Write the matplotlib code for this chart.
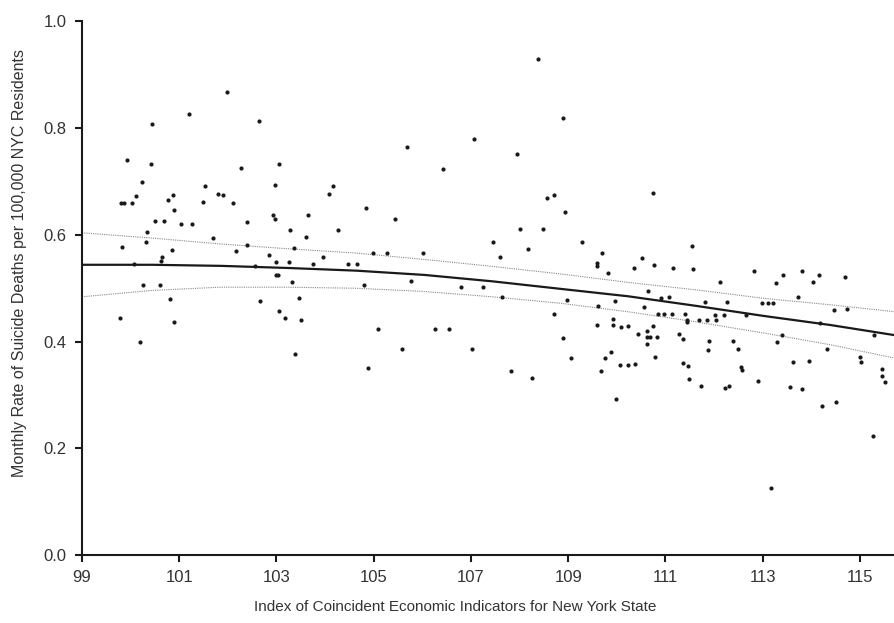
import matplotlib
matplotlib.use("Agg")
import matplotlib.pyplot as plt

plt.rcParams["font.family"] = ["Liberation Sans", "DejaVu Sans"]

# Scatter points: index value, monthly suicide rate
index_vals = [
    101.21, 100.44, 99.92, 100.42, 100.23, 101.54, 101.80, 100.11, 100.87, 100.76,
    99.80, 99.87, 100.03, 101.49, 100.90, 100.51, 100.69, 101.04, 101.26, 100.33,
    101.70, 100.32, 99.82, 100.86, 100.65, 100.63, 100.06, 100.26, 100.60, 100.82,
    99.78, 100.90, 100.19,
    101.99, 102.65, 102.26, 103.05, 102.96, 104.17, 101.91, 104.09, 102.11, 102.93,
    102.96, 103.65, 102.39, 103.27, 104.27, 103.60, 102.39, 102.16, 103.36, 102.84,
    103.95, 102.98, 103.26, 103.76, 104.48, 102.56, 102.98, 103.03, 103.31, 103.47,
    102.67, 103.06, 103.18, 103.51, 103.39,
    107.07, 105.68, 106.43, 104.84, 105.44, 104.98, 105.28, 106.01, 104.65, 104.80,
    105.76, 106.79, 107.25, 105.09, 106.26, 106.54, 105.59, 107.02, 104.89,
    108.38, 108.89, 107.94, 108.56, 108.70, 108.94, 108.01, 108.49, 107.46, 109.29,
    108.17, 107.59, 109.70, 109.59, 109.59, 109.81, 107.63, 108.98, 109.61, 109.96,
    108.70, 109.92, 109.59, 109.92, 110.08, 108.89, 109.88, 109.06, 109.76, 110.07,
    107.83, 109.68, 108.26, 109.98,
    110.74, 111.55, 110.51, 110.35, 110.77, 111.15, 111.56, 112.83, 112.12, 110.64,
    110.90, 111.07, 111.81, 112.26, 112.98, 110.55, 110.84, 110.96, 111.14, 111.40,
    111.44, 111.45, 111.68, 111.85, 112.03, 112.01, 112.20, 112.65, 110.23, 110.74,
    110.63, 110.43, 111.27, 110.63, 110.69, 110.83, 111.37, 111.90, 112.38, 110.62,
    111.87, 112.50, 110.79, 110.23, 110.38, 111.37, 111.47, 112.55, 112.57, 111.48,
    112.90, 111.74, 112.22, 112.31,
    113.80, 113.41, 114.15, 114.69, 113.27, 114.03, 113.73, 113.10, 113.22, 114.47,
    114.73, 114.18, 115.28, 113.40, 113.29, 114.33, 114.99, 115.03, 113.62, 113.95,
    115.45, 115.45, 115.51, 113.57, 113.81, 114.51, 114.21, 115.26, 113.18,
]
suicide_rate = [
    0.827, 0.807, 0.741, 0.732, 0.699, 0.692, 0.677, 0.673, 0.674, 0.666,
    0.660, 0.660, 0.660, 0.661, 0.646, 0.626, 0.626, 0.621, 0.621, 0.606,
    0.594, 0.586, 0.578, 0.572, 0.559, 0.552, 0.546, 0.506, 0.506, 0.479,
    0.444, 0.436, 0.399,
    0.868, 0.814, 0.726, 0.733, 0.694, 0.692, 0.674, 0.676, 0.660, 0.637,
    0.629, 0.637, 0.624, 0.610, 0.610, 0.597, 0.581, 0.570, 0.576, 0.563,
    0.559, 0.550, 0.550, 0.546, 0.546, 0.542, 0.524, 0.524, 0.511, 0.481,
    0.476, 0.458, 0.445, 0.441, 0.377,
    0.779, 0.765, 0.724, 0.651, 0.630, 0.566, 0.566, 0.566, 0.545, 0.506,
    0.514, 0.502, 0.502, 0.424, 0.424, 0.424, 0.386, 0.386, 0.351,
    0.929, 0.819, 0.751, 0.669, 0.674, 0.642, 0.611, 0.611, 0.586, 0.586,
    0.574, 0.559, 0.566, 0.547, 0.542, 0.529, 0.484, 0.478, 0.467, 0.477,
    0.451, 0.443, 0.431, 0.431, 0.428, 0.407, 0.381, 0.369, 0.369, 0.357,
    0.344, 0.344, 0.331, 0.292,
    0.679, 0.579, 0.556, 0.538, 0.544, 0.538, 0.536, 0.533, 0.511, 0.494,
    0.482, 0.484, 0.475, 0.475, 0.472, 0.465, 0.452, 0.452, 0.452, 0.452,
    0.440, 0.437, 0.440, 0.440, 0.440, 0.450, 0.450, 0.449, 0.429, 0.429,
    0.420, 0.415, 0.415, 0.408, 0.408, 0.408, 0.404, 0.402, 0.402, 0.396,
    0.384, 0.387, 0.371, 0.357, 0.358, 0.359, 0.355, 0.352, 0.347, 0.329,
    0.327, 0.316, 0.314, 0.316,
    0.533, 0.524, 0.524, 0.521, 0.509, 0.512, 0.484, 0.473, 0.473, 0.459,
    0.462, 0.434, 0.412, 0.412, 0.400, 0.387, 0.372, 0.362, 0.362, 0.363,
    0.349, 0.335, 0.325, 0.315, 0.312, 0.287, 0.279, 0.223, 0.126,
]

# Fitted curve and confidence band
fit_x = [99.0, 100.45, 101.85, 103.24, 104.64, 106.04, 107.44, 108.83, 110.23, 111.63, 113.03, 114.4, 115.72]
fit_y = [0.544, 0.544, 0.542, 0.538, 0.533, 0.525, 0.513, 0.499, 0.485, 0.467, 0.448, 0.431, 0.412]
upper_y = [0.604, 0.594, 0.583, 0.574, 0.566, 0.554, 0.541, 0.527, 0.511, 0.497, 0.481, 0.469, 0.456]
lower_y = [0.484, 0.496, 0.502, 0.502, 0.500, 0.494, 0.484, 0.472, 0.456, 0.437, 0.416, 0.394, 0.369]

x_ticks = [99, 101, 103, 105, 107, 109, 111, 113, 115]
y_ticks = [0.0, 0.2, 0.4, 0.6, 0.8, 1.0]

fig = plt.figure(figsize=(8.95, 6.23), dpi=100)
ax = fig.add_axes([0.0916, 0.1091, 0.9084, 0.8564])

ax.scatter(index_vals, suicide_rate, s=9, color="#1a1a1a", linewidths=0, zorder=3)
ax.plot(fit_x, fit_y, color="#1a1a1a", lw=1.6, zorder=2)
ax.plot(fit_x, upper_y, color="#888888", lw=0.8, ls=(0, (1, 1)), zorder=1)
ax.plot(fit_x, lower_y, color="#888888", lw=0.8, ls=(0, (1, 1)), zorder=1)

ax.set_xlim(99, 115.72)
ax.set_ylim(0, 1.0)
ax.set_xticks(x_ticks)
ax.set_xticklabels([str(t) for t in x_ticks], fontsize=12)
ax.set_yticks(y_ticks)
ax.set_yticklabels(["%.1f" % t for t in y_ticks], fontsize=12)

for side in ["top", "right"]:
    ax.spines[side].set_visible(False)
for side in ["left", "bottom"]:
    ax.spines[side].set_linewidth(1.5)
    ax.spines[side].set_color("#1a1a1a")

ax.tick_params(direction="out", length=5, width=1.5, colors="#1a1a1a",
               labelcolor="#333333", pad=6)

ax.set_xlabel("Index of Coincident Economic Indicators for New York State",
              fontsize=11, color="#333333")
ax.xaxis.set_label_coords(0.459, -0.085)
ax.set_ylabel("Monthly Rate of Suicide Deaths per 100,000 NYC Residents",
              fontsize=11.5, color="#333333")
ax.yaxis.set_label_coords(-0.068, 0.547)

fig.savefig("out.png", dpi=100)
